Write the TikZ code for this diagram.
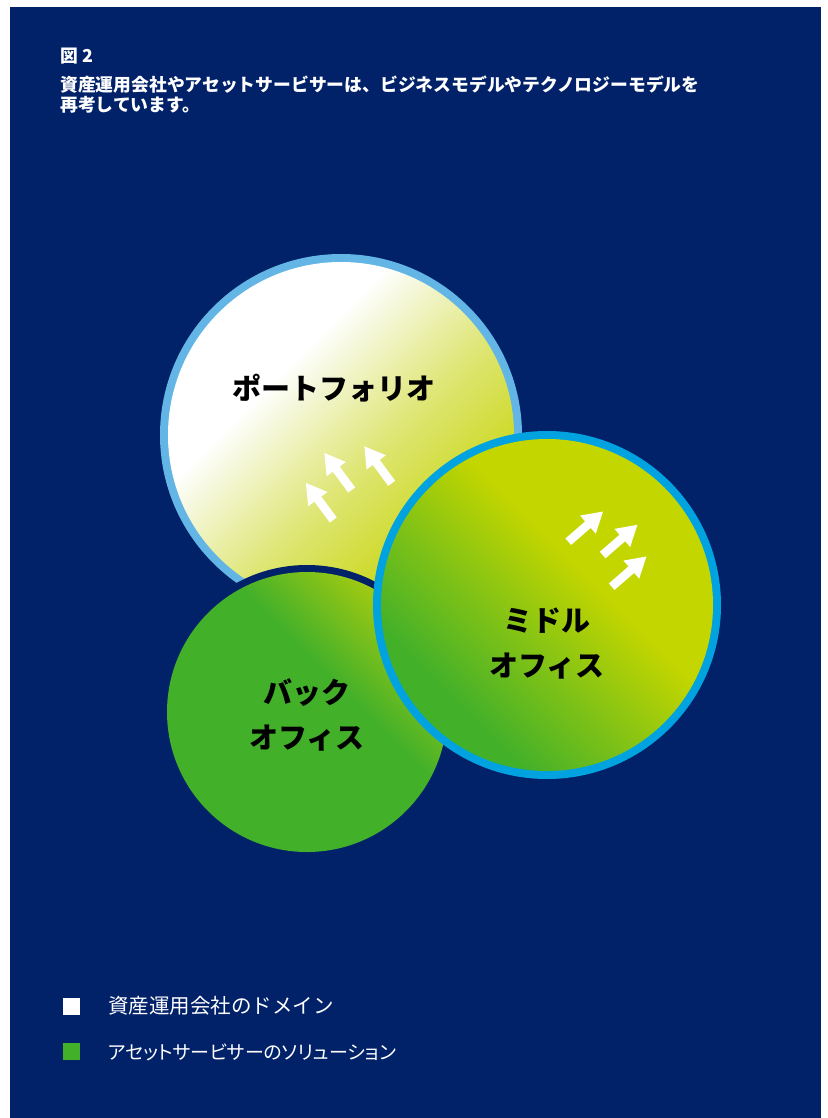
\documentclass[tikz,border=0pt]{standalone}
\usepackage{fontspec}
\newfontfamily\jp{Noto Sans CJK JP}
\newfontfamily\jpp{Noto Sans CJK JP}[RawFeature=+palt]
\usetikzlibrary{calc}
\definecolor{navy}{HTML}{012169}
\definecolor{lblue}{HTML}{62B5E5}
\definecolor{mblue}{HTML}{00A3E0}
\definecolor{dgreen}{HTML}{43B02A}
\definecolor{ygreen}{HTML}{C4D600}
\definecolor{pyel}{HTML}{C8D60F}
\definecolor{pcream}{HTML}{F4F7D8}
\definecolor{pmid}{HTML}{DFE676}
\definecolor{byel}{HTML}{A8CC10}
\pgfdeclarehorizontalshading{portshade}{100bp}{color(0bp)=(white); color(37.5bp)=(white); color(42.5bp)=(pcream); color(55bp)=(pmid); color(72.5bp)=(pyel); color(100bp)=(pyel)}
\pgfdeclarehorizontalshading{backshade}{100bp}{color(0bp)=(dgreen); color(57.5bp)=(dgreen); color(75bp)=(byel); color(100bp)=(byel)}
\pgfdeclarehorizontalshading{midshade}{100bp}{color(0bp)=(dgreen); color(30bp)=(dgreen); color(57.5bp)=(ygreen); color(100bp)=(ygreen)}
\newcommand\myshadedcircle[4]{% center name, radius, shading, angle
  \begin{scope}
    \clip (#1) circle (#2);
    \shade[shading=#3, transform canvas={rotate around={#4:(#1)}}] ($(#1)+(-#2,-#2)$) rectangle ($(#1)+(#2,#2)$);
  \end{scope}
}
\tikzset{
  blockarrow/.pic={\fill[white] (0,-4.3pt) -- (26pt,-4.3pt) -- (26pt,-12pt) -- (46pt,0pt) -- (26pt,12pt) -- (26pt,4.3pt) -- (0,4.3pt) -- cycle;},
  titletext/.style={text=white, anchor=base west, inner sep=0pt, font=\jp\bfseries\fontsize{17.8}{20}\selectfont},
  circlabel/.style={text=black, align=center, inner sep=0pt, font=\jp\bfseries\fontsize{29}{45}\selectfont},
  legsq/.style={minimum size=17pt, inner sep=0pt, draw=none},
  legtext/.style={text=white, anchor=west, inner sep=0pt}
}
\begin{document}
\begin{tikzpicture}[x=1pt,y=-1pt]
\useasboundingbox (0,0) rectangle (827,1118);
\fill[white] (0,0) rectangle (827,1118);
\fill[navy] (10,7) rectangle (821,1118);

% title
\node[titletext] (t1) at (60,63) {図 2};
\node[titletext] (t2) at (60,92) {資産運用会社やアセットサービサーは、ビジネスモデルやテクノロジーモデルを};
\node[titletext] (t3) at (60,112) {再考しています。};

% portfolio circle
\coordinate (pc) at (341,435);
\fill[lblue] (pc) circle (181pt);
\myshadedcircle{pc}{173pt}{portshade}{-45}

% back office circle
\coordinate (bc) at (307,712);
\fill[navy] (bc) circle (147pt);
\myshadedcircle{bc}{140pt}{backshade}{45}

% middle office circle
\coordinate (mc) at (547,605);
\fill[mblue] (mc) circle (174pt);
\myshadedcircle{mc}{166pt}{midshade}{45}

% arrows in portfolio
\pic[rotate=126.5] at (333.3,520) {blockarrow};
\pic[rotate=126.5] at (351.7,490) {blockarrow};
\pic[rotate=126.5] at (391.7,483.3) {blockarrow};
% arrows in middle office
\pic[rotate=41] at (568.3,541.7) {blockarrow};
\pic[rotate=41] at (602.7,555) {blockarrow};
\pic[rotate=41] at (611.7,586.7) {blockarrow};

% labels
\node[circlabel] (lport) at (333.5,388.5) {ポートフォリオ};
\node[circlabel] (lback) at (307,714.5) {バック\\オフィス};
\node[circlabel] (lmid) at (547,643.5) {ミドル\\オフィス};

% legend
\node[legsq, fill=white] (sq1) at (71.5,1006) {};
\node[legsq, fill=dgreen] (sq2) at (71.5,1051) {};
\node[legtext, font=\jp\fontsize{20.5}{24}\selectfont] (lt1) at (108,1006) {資産運用会社のドメイン};
\node[legtext, font=\jpp\fontsize{19}{24}\selectfont] (lt2) at (108,1052) {アセットサービサーのソリューション};
\end{tikzpicture}
\end{document}
